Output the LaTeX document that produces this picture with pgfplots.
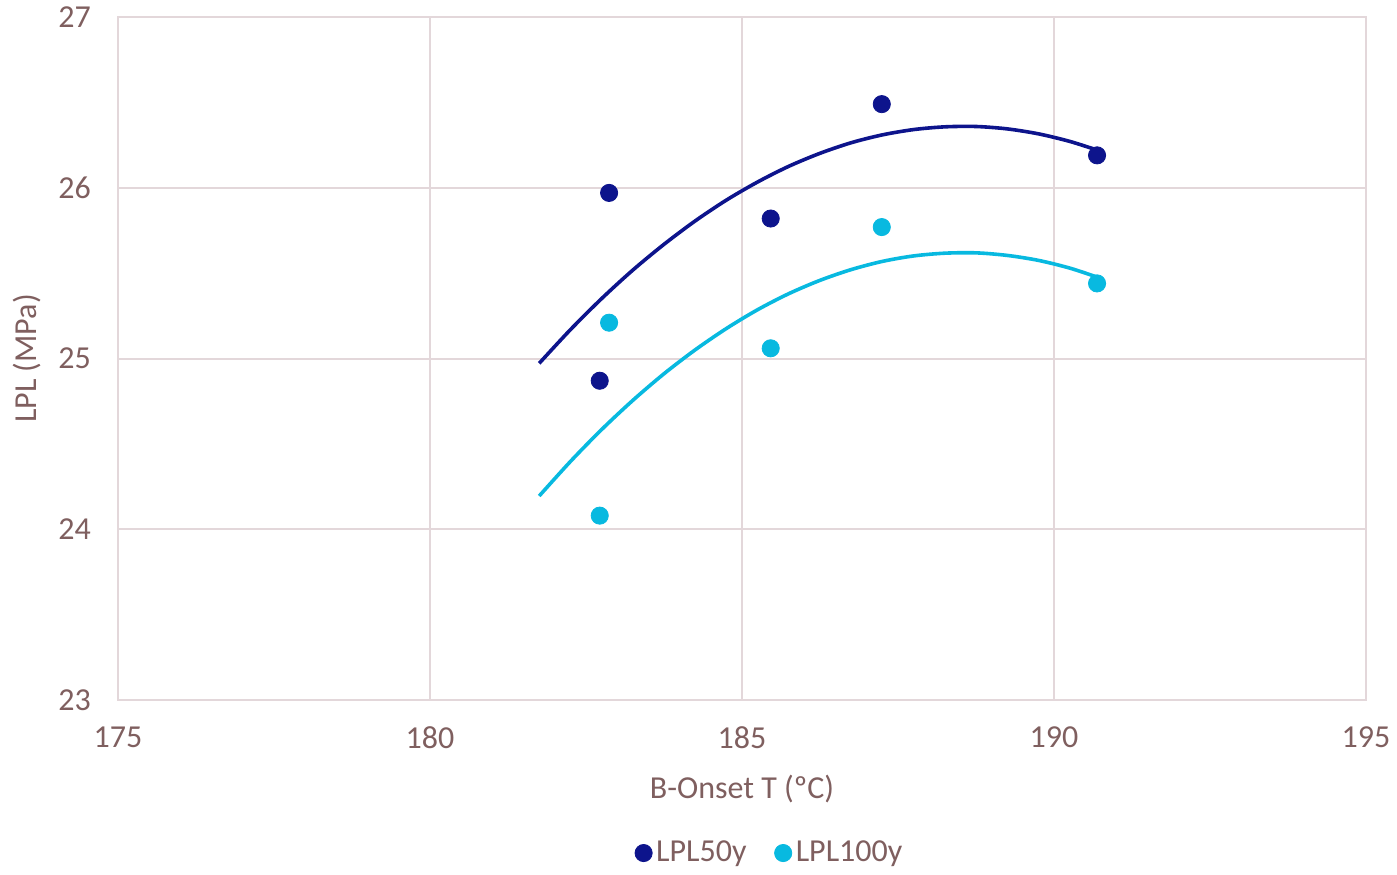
\documentclass[border=0pt]{standalone}
\usepackage{fontspec}
\setmainfont{Carlito}
\usepackage{pgfplots}
\pgfplotsset{compat=1.18}
\definecolor{dark}{HTML}{0D148C}
\definecolor{light}{HTML}{08B9E0}
\definecolor{txt}{HTML}{7F5F5F}
\definecolor{gridc}{HTML}{E3D7DA}

\begin{document}
\begin{tikzpicture}
\begin{axis}[
  name=ax,
  scale only axis,
  width=624pt, height=341.5pt,
  xmin=175, xmax=195, ymin=23, ymax=27,
  xtick={175,180,...,195}, ytick={23,24,...,27},
  grid=major, grid style={gridc, line width=1pt},
  axis line style={gridc, line width=1pt},
  major tick length=0pt,
  /pgf/number format/assume math mode=true,
  font=\fontsize{16}{19}\selectfont,
  tick label style={txt},
  xticklabel style={yshift=-10pt},
  yticklabel style={xshift=-10pt},
  xlabel={B-Onset T (ºC)}, ylabel={LPL (MPa)},
  label style={txt},
  xlabel style={yshift=-6pt},
  ylabel style={yshift=2pt},
  legend style={at={(0.523,-0.224)}, anchor=center, draw=none,
    legend columns=2, text=txt, font=\fontsize{16}{19}\selectfont,
    /tikz/every even column/.append style={column sep=12pt}},
  legend cell align=left,
]
\addplot[only marks, mark=*, mark size=4.3pt, color=dark] coordinates {
  (182.87,25.97) (182.72,24.87) (185.46,25.82) (187.24,26.49) (190.69,26.19)};
\addlegendentry{LPL50y}
\addplot[only marks, mark=*, mark size=4.3pt, color=light] coordinates {
  (182.87,25.21) (182.72,24.08) (185.46,25.06) (187.24,25.77) (190.69,25.44)};
\addlegendentry{LPL100y}
% polynomial trend lines
\addplot[dark, line width=1.8pt, smooth, forget plot] coordinates {
  (181.75,24.972) (182.25,25.169) (182.75,25.351) (183.25,25.518) (183.75,25.669)
  (184.25,25.806) (184.75,25.928) (185.25,26.034) (185.75,26.126) (186.25,26.202)
  (186.75,26.264) (187.25,26.310) (187.75,26.341) (188.25,26.357) (188.75,26.359)
  (189.25,26.345) (189.75,26.316) (190.25,26.272) (190.69,26.221)};
\addplot[light, line width=1.8pt, smooth, forget plot] coordinates {
  (181.75,24.195) (182.25,24.397) (182.75,24.584) (183.25,24.755) (183.75,24.911)
  (184.25,25.051) (184.75,25.176) (185.25,25.286) (185.75,25.380) (186.25,25.458)
  (186.75,25.521) (187.25,25.569) (187.75,25.601) (188.25,25.617) (188.75,25.619)
  (189.25,25.604) (189.75,25.575) (190.25,25.530) (190.69,25.477)};
\end{axis}
\useasboundingbox ([xshift=-59pt,yshift=-87pt]ax.south west) rectangle ([xshift=15.5pt,yshift=8.5pt]ax.north east);
\end{tikzpicture}
\end{document}
